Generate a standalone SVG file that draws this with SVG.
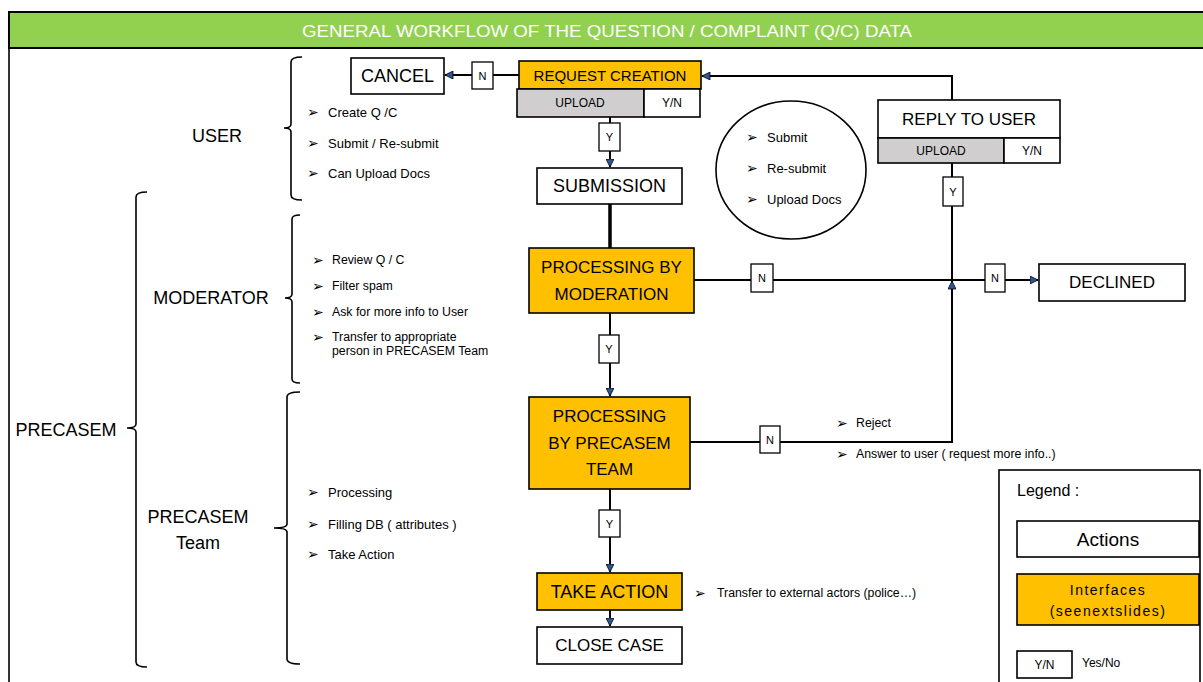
<svg xmlns="http://www.w3.org/2000/svg" width="1203" height="682" viewBox="0 0 1203 682">
<style>
text{font-family:"Liberation Sans",Arial,sans-serif;fill:#000}
.box{fill:#fff;stroke:#000;stroke-width:1.6}
.or{fill:#FFC000;stroke:#000;stroke-width:1.6}
.gr{fill:#D0CECE;stroke:#000;stroke-width:1.6}
.c{text-anchor:middle;dominant-baseline:central}
.big{font-size:18px}
.mid{font-size:17px}
.sm{font-size:12px}
.yn{fill:#fff;stroke:#000;stroke-width:1.3}
.ynt{font-size:11px;text-anchor:middle;dominant-baseline:central}
.bul{font-family:"DejaVu Sans",sans-serif;font-size:14px}
.bt{font-size:13px;dominant-baseline:central}
.ln{fill:none;stroke:#000;stroke-width:2}
.br{fill:none;stroke:#000;stroke-width:1.6}
</style>
<defs>
<marker id="arr" viewBox="0 0 10 10" refX="10" refY="5" markerWidth="9" markerHeight="8" markerUnits="userSpaceOnUse" orient="auto">
<path d="M0,0 L10,5 L0,10 z" fill="#2E5597" stroke="#000" stroke-width="1"/>
</marker>
</defs>
<rect x="0" y="0" width="1203" height="682" fill="#fff"/>
<g id="frame">
<rect x="9" y="12" width="1200" height="36" fill="#92D050" stroke="#000" stroke-width="2"/>
<line x1="9" y1="48" x2="9" y2="682" stroke="#000" stroke-width="1.6"/>
<text x="607" y="31" class="c" style="font-size:17px;fill:#fff" textLength="610" lengthAdjust="spacingAndGlyphs">GENERAL WORKFLOW OF THE QUESTION / COMPLAINT (Q/C) DATA</text>
</g>
<g id="roles">
<text x="217" y="136" class="c big">USER</text>
<text x="211" y="298" class="c big">MODERATOR</text>
<text x="66" y="430" class="c big">PRECASEM</text>
<text x="198" y="517" class="c big">PRECASEM</text>
<text x="198" y="543" class="c big">Team</text>
<path class="br" d="M302,57 Q291,57 291,62 V124 Q291,128 284,128 Q291,128 291,132 V195 Q291,200 302,200"/>
<path class="br" d="M300,215 Q292,215 292,219 V294 Q292,298 285,298 Q292,298 292,302 V379 Q292,383 300,383"/>
<path class="br" d="M300,392 Q287,392 287,397 V524 Q287,528 274,528 Q287,528 287,532 V659 Q287,664 300,664"/>
<path class="br" d="M147,192 Q136,192 136,197 V424 Q136,428 127,428 Q136,428 136,432 V662 Q136,667 147,667"/>
</g>
<g id="lists">
<text x="307" y="112" class="bul" dominant-baseline="central">➢</text><text x="328" y="112" class="bt">Create Q /C</text>
<text x="307" y="143" class="bul" dominant-baseline="central">➢</text><text x="328" y="143" class="bt">Submit / Re-submit</text>
<text x="307" y="173" class="bul" dominant-baseline="central">➢</text><text x="328" y="173" class="bt">Can Upload Docs</text>
<text x="312" y="260" class="bul" dominant-baseline="central">➢</text><text x="332" y="260" class="bt" style="font-size:12.3px">Review  Q / C</text>
<text x="312" y="286" class="bul" dominant-baseline="central">➢</text><text x="332" y="286" class="bt" style="font-size:12.3px">Filter  spam</text>
<text x="312" y="312" class="bul" dominant-baseline="central">➢</text><text x="332" y="312" class="bt" style="font-size:12.3px">Ask for more info to User</text>
<text x="312" y="337" class="bul" dominant-baseline="central">➢</text><text x="332" y="337" class="bt" style="font-size:12.3px">Transfer to  appropriate</text>
<text x="332" y="351" class="bt" style="font-size:12.3px">person in PRECASEM Team</text>
<text x="307" y="492" class="bul" dominant-baseline="central">➢</text><text x="328" y="492" class="bt">Processing</text>
<text x="307" y="524" class="bul" dominant-baseline="central">➢</text><text x="328" y="524" class="bt">Filling  DB ( attributes )</text>
<text x="307" y="554" class="bul" dominant-baseline="central">➢</text><text x="328" y="554" class="bt">Take Action</text>
<text x="836" y="423" class="bul" dominant-baseline="central">➢</text><text x="856" y="423" class="bt" style="font-size:12.3px">Reject</text>
<text x="836" y="454" class="bul" dominant-baseline="central">➢</text><text x="856" y="454" class="bt" style="font-size:12.3px">Answer to user ( request  more info..)</text>
<text x="694" y="593" class="bul" dominant-baseline="central">➢</text><text x="717" y="593" class="bt" style="font-size:12.3px">Transfer to  external actors (police…)</text>
</g>
<g id="circle-note">
<ellipse cx="791" cy="170" rx="75" ry="69" fill="#fff" stroke="#000" stroke-width="1.6"/>
<text x="746" y="137" class="bul" dominant-baseline="central">➢</text><text x="767" y="137" class="bt">Submit</text>
<text x="746" y="168" class="bul" dominant-baseline="central">➢</text><text x="767" y="168" class="bt">Re-submit</text>
<text x="746" y="199" class="bul" dominant-baseline="central">➢</text><text x="767" y="199" class="bt">Upload  Docs</text>
</g>
<g id="connectors">
<path class="ln" d="M519,75 H445" marker-end="url(#arr)"/>
<path class="ln" d="M610,117 V167" marker-end="url(#arr)"/>
<path class="ln" d="M610,204 V248" style="stroke-width:3.5"/>
<path class="ln" d="M610,313 V396" marker-end="url(#arr)"/>
<path class="ln" d="M694,280 H1038" marker-end="url(#arr)"/>
<path class="ln" d="M690,442 H952 V281" marker-end="url(#arr)"/>
<path class="ln" d="M952,100 V76 H702" marker-end="url(#arr)"/>
<path class="ln" d="M952,163 V280"/>
<path class="ln" d="M610,489 V572" marker-end="url(#arr)"/>
<path class="ln" d="M610,610 V626" marker-end="url(#arr)"/>
<rect class="yn" x="472" y="62" width="21" height="27"/><text x="482.5" y="75.5" class="ynt">N</text>
<rect class="yn" x="599" y="123" width="21" height="28"/><text x="609.5" y="137" class="ynt">Y</text>
<rect class="yn" x="943" y="177" width="20" height="29"/><text x="953" y="191.5" class="ynt">Y</text>
<rect class="yn" x="751" y="264" width="22" height="28"/><text x="762" y="278" class="ynt">N</text>
<rect class="yn" x="985" y="264" width="20" height="28"/><text x="995" y="278" class="ynt">N</text>
<rect class="yn" x="599" y="335" width="20" height="28"/><text x="609" y="349" class="ynt">Y</text>
<rect class="yn" x="760" y="426" width="20" height="27"/><text x="770" y="439.5" class="ynt">N</text>
<rect class="yn" x="599" y="510" width="21" height="27"/><text x="609.5" y="523.5" class="ynt">Y</text>
</g>
<g id="cancel"><rect class="box" x="351" y="58" width="93" height="36"/><text x="397.5" y="76" class="c big">CANCEL</text></g>
<g id="request-creation">
<rect class="or" x="519" y="61" width="182" height="28"/><text x="610" y="75" class="c" style="font-size:15px">REQUEST CREATION</text>
<rect class="gr" x="517" y="89" width="127" height="28"/><text x="580" y="103" class="c sm">UPLOAD</text>
<rect class="box" x="644" y="89" width="56" height="28"/><text x="672" y="103" class="c sm">Y/N</text>
</g>
<g id="submission"><rect class="box" x="537" y="168" width="145" height="36"/><text x="609.5" y="186" class="c big">SUBMISSION</text></g>
<g id="reply-to-user">
<rect class="box" x="878" y="100" width="182" height="38"/><text x="969" y="119" class="c mid">REPLY TO USER</text>
<rect class="gr" x="878" y="138" width="126" height="25"/><text x="941" y="150.5" class="c sm">UPLOAD</text>
<rect class="box" x="1004" y="138" width="56" height="25"/><text x="1032" y="150.5" class="c sm">Y/N</text>
</g>
<g id="processing-moderation"><rect class="or" x="529" y="248" width="165" height="65"/><text x="611.5" y="267" class="c mid">PROCESSING BY</text><text x="611.5" y="294" class="c mid">MODERATION</text></g>
<g id="declined"><rect class="box" x="1039" y="264" width="146" height="37"/><text x="1112" y="282.5" class="c mid">DECLINED</text></g>
<g id="processing-team"><rect class="or" x="529" y="397" width="161" height="92"/><text x="609.5" y="416" class="c mid">PROCESSING</text><text x="609.5" y="443" class="c mid">BY PRECASEM</text><text x="609.5" y="469" class="c mid">TEAM</text></g>
<g id="take-action"><rect class="or" x="537" y="573" width="145" height="37"/><text x="609.5" y="591.5" class="c big">TAKE ACTION</text></g>
<g id="close-case"><rect class="box" x="537" y="627" width="145" height="37"/><text x="609.5" y="645.5" class="c mid">CLOSE CASE</text></g>
<g id="legend">
<rect x="999" y="470" width="201" height="220" fill="#fff" stroke="#000" stroke-width="1.6"/>
<text x="1017" y="490" style="font-size:16px;dominant-baseline:central">Legend  :</text>
<rect class="box" x="1017" y="521" width="182" height="36"/><text x="1108" y="539" class="c" style="font-size:19px">Actions</text>
<rect class="or" x="1017" y="574" width="182" height="51"/>
<text x="1108" y="590" class="c" style="font-size:14px;letter-spacing:1.5px">Interfaces</text>
<text x="1108" y="611" class="c" style="font-size:14px;letter-spacing:1.5px">(seenextslides)</text>
<rect class="box" x="1017" y="651" width="55" height="27"/><text x="1044.5" y="664.5" class="c sm">Y/N</text>
<text x="1082" y="663" class="bt" style="font-size:12px">Yes/No</text>
</g>
</svg>
